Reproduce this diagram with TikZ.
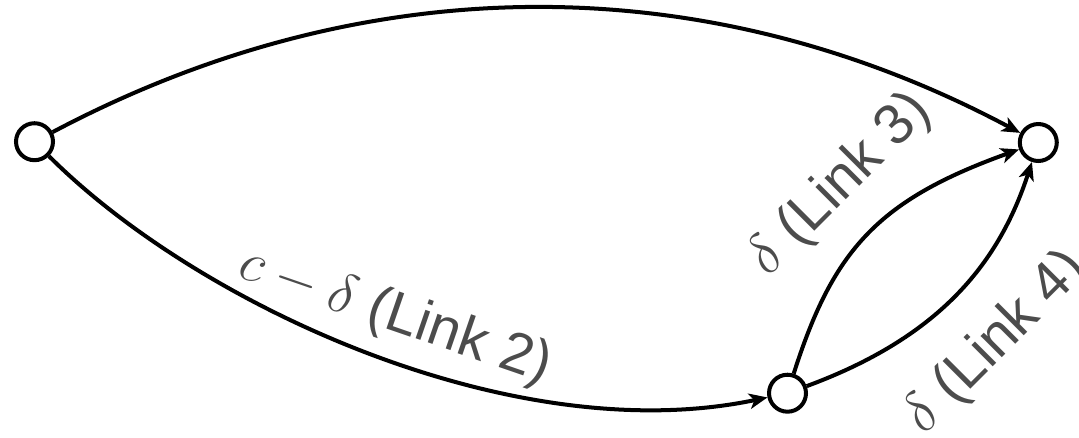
\RequirePackage{fix-cm}
\documentclass[tikz,border=0pt]{standalone}
\usepackage{fontspec}
\setmainfont{Liberation Sans}
\usetikzlibrary{arrows.meta}
\begin{document}
\begin{tikzpicture}[x=0.025cm,y=-0.025cm,
  vtx/.style={circle,draw=black,line width=2.85pt,minimum size=26.3pt,inner sep=0pt,fill=white},
  edge/.style={line width=2.85pt,-{Stealth[length=13pt,width=11pt,inset=3.5pt]}},
  lbl/.style={text=black!70,font=\fontsize{40.5}{48}\selectfont,inner sep=0pt}]
\useasboundingbox (0,0) rectangle (1079,437);
\node[vtx] (L) at (34.5,141.7) {};
\node[vtx] (R) at (1038.3,142.5) {};
\node[vtx] (B) at (787.5,393.2) {};
\draw[edge] (L) .. controls (366,-34) and (707,-34) .. (R);
\draw[edge] (L) .. controls (198,305) and (513,451) .. (B);
\draw[edge] (B) .. controls (833,250) and (878,200) .. (R);
\draw[edge] (B) .. controls (937,338) and (998,266) .. (R);
\node[lbl,rotate=-19] (l2) at (395,316) {$c-\delta$ (Link 2)};
\node[lbl,rotate=45] (l3) at (840,185) {$\delta$ (Link 3)};
\node[lbl,rotate=45] (l4) at (996,343) {$\delta$ (Link 4)};
\end{tikzpicture}
\end{document}
